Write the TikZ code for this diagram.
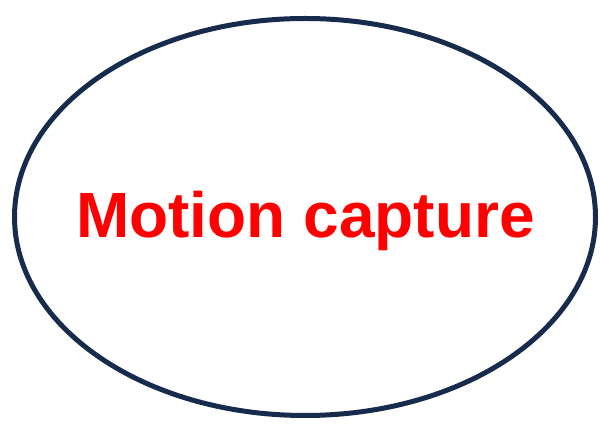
\documentclass[tikz,border=0pt]{standalone}
\usepackage{fontspec}
\setmainfont{Liberation Sans}
\definecolor{navy}{HTML}{172B4D}
\definecolor{redtxt}{HTML}{FF0000}
\tikzset{
  outline/.style={draw=navy, line width=5pt},
  label/.style={text=redtxt, font=\fontsize{64}{70}\selectfont\bfseries, inner sep=0pt}
}
\begin{document}
\begin{tikzpicture}[x=1pt,y=1pt]
\useasboundingbox (0,0) rectangle (600,425);
\draw[outline] (305,208) ellipse [x radius=290.5, y radius=198.5];
\node[label, anchor=base] (t) at (305.5,187) {Motion capture};
\end{tikzpicture}
\end{document}
